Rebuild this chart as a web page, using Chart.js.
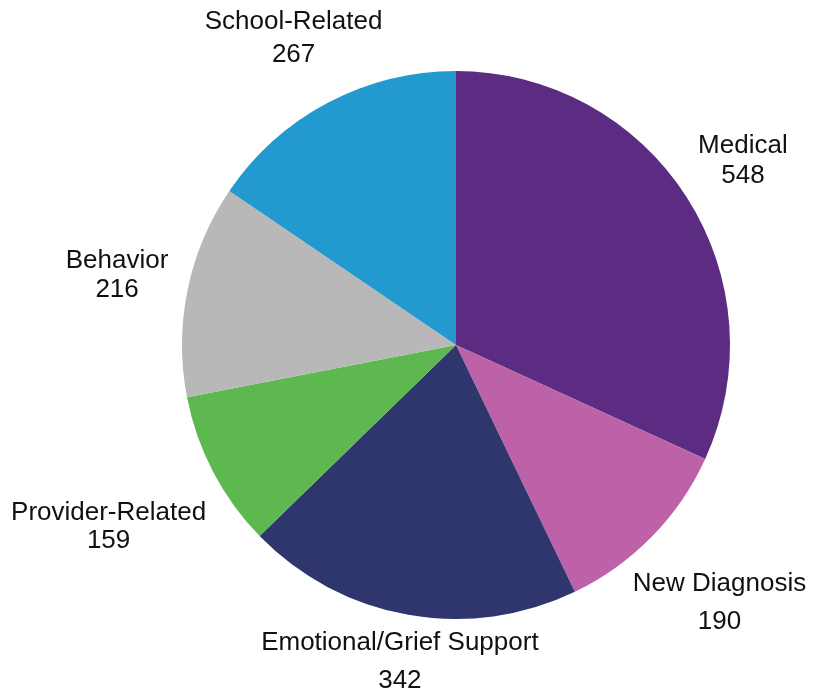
<!DOCTYPE html>
<html>
<head>
<meta charset="utf-8">
<script src="https://cdn.jsdelivr.net/npm/chart.js@4.4.1/dist/chart.umd.min.js"></script>
<style>
  html, body { margin: 0; padding: 0; background: #fff; }
  #wrap { width: 825px; height: 692px; }
</style>
</head>
<body>
<div id="wrap"><canvas id="pie"></canvas></div>
<script>
// categories and values, clockwise from 12 o'clock
const categories = ["Medical", "New Diagnosis", "Emotional/Grief Support", "Provider-Related", "Behavior", "School-Related"];
const counts = [548, 190, 342, 159, 216, 267];
const sliceColors = ["#5b2c82", "#bd62a8", "#2f356d", "#5db94f", "#b8b8b8", "#2299cf"];

// how far past the rim each label sits, and the gap between its two lines
const labelPush = [67, 95, 48, 118, 72, 73];
const lineGap = [30, 38, 38, 28, 29, 33];

//---------------------------outside labels------------------//
const outsideLabels = {
  id: "outsideLabels",
  afterDraw(chart) {
    const ctx = chart.ctx;
    const arcs = chart.getDatasetMeta(0).data;
    ctx.save();
    ctx.font = "26px 'Liberation Sans', Arial, sans-serif";
    ctx.fillStyle = "#111";
    ctx.textAlign = "center";
    ctx.textBaseline = "middle";
    arcs.forEach((arc, i) => {
      const mid = (arc.startAngle + arc.endAngle) / 2;
      const d = arc.outerRadius + labelPush[i];
      const cx = arc.x + Math.cos(mid) * d;
      const cy = arc.y + Math.sin(mid) * d;
      ctx.fillText(categories[i], cx, cy - lineGap[i] / 2);
      ctx.fillText(String(counts[i]), cx, cy + lineGap[i] / 2);
    });
    ctx.restore();
  }
};

new Chart(document.getElementById("pie"), {
  type: "pie",
  data: {
    labels: categories,
    datasets: [{
      data: counts,
      backgroundColor: sliceColors,
      borderWidth: 0
    }]
  },
  options: {
    responsive: true,
    maintainAspectRatio: false,
    animation: false,
    layout: {
      padding: { left: 182, right: 95, top: 71, bottom: 73 }
    },
    plugins: {
      legend: { display: false },
      tooltip: { enabled: false }
    }
  },
  plugins: [outsideLabels]
});
</script>
</body>
</html>
